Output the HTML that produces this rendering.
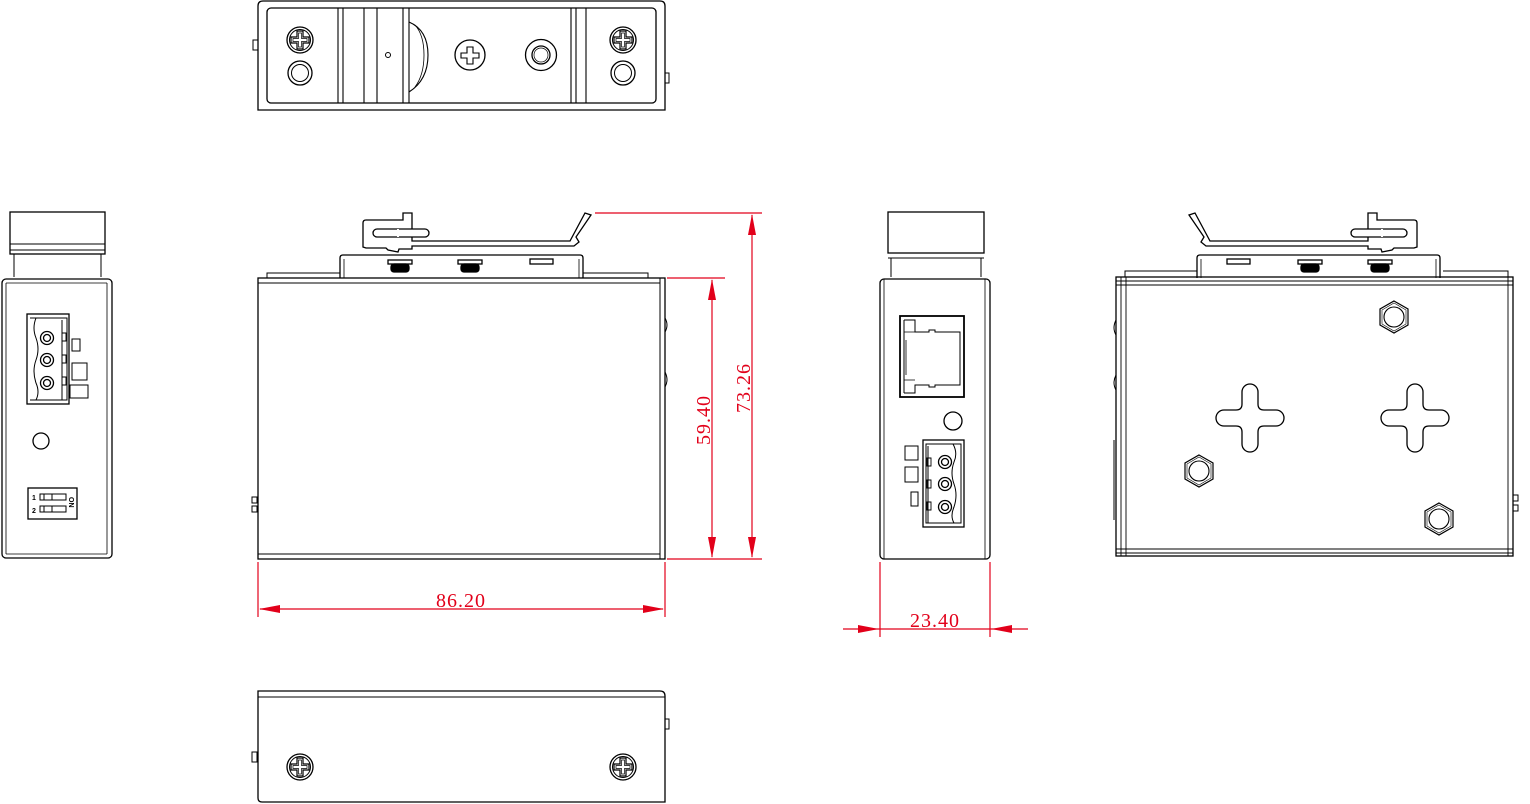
<!DOCTYPE html>
<html><head><meta charset="utf-8"><style>html,body{margin:0;padding:0;background:#fff}svg{display:block}</style></head>
<body>
<svg width="1530" height="804" viewBox="0 0 1530 804" xmlns="http://www.w3.org/2000/svg" font-family="Liberation Serif, serif">
<defs>
<g id="ph">
 <circle r="13" fill="none" stroke="#000" stroke-width="1.3"/>
 <circle r="10.5" fill="none" stroke="#000" stroke-width="1"/>
 <path d="M-3,-9 H3 V-3 H9 V3 H3 V9 H-3 V3 H-9 V-3 H-3 Z" fill="none" stroke="#000" stroke-width="1.2"/>
 <path d="M-1.5,-7 H1.5 V-1.5 H7 V1.5 H1.5 V7 H-1.5 V1.5 H-7 V-1.5 H-1.5 Z" fill="none" stroke="#000" stroke-width="0.7"/>
</g>
<g id="wa"><circle r="12" fill="none" stroke="#000" stroke-width="1.3"/><circle r="8.5" fill="none" stroke="#000" stroke-width="1"/></g>
<g id="hex"><polygon points="0,-16 14,-8 14,8 0,16 -14,8 -14,-8" fill="none" stroke="#000" stroke-width="1.2"/><polygon points="0,-14 12,-7 12,7 0,14 -12,7 -12,-7" fill="none" stroke="#000" stroke-width="0.6"/><circle r="10" fill="none" stroke="#000" stroke-width="1.1"/></g>
<g id="crs"><path d="M-8,-26 A8,8 0 0 1 8,-26 L8,-14 Q8,-8 14,-8 L26,-8 A8,8 0 0 1 26,8 L14,8 Q8,8 8,14 L8,26 A8,8 0 0 1 -8,26 L-8,14 Q-8,8 -14,8 L-26,8 A8,8 0 0 1 -26,-8 L-14,-8 Q-8,-8 -8,-14 Z" fill="none" stroke="#000" stroke-width="1.3"/></g>
<g id="top">
 <path d="M363,247 L363,223 Q363,220 366,220 L403,220 L403,213 L412,213 L412,229 L412,237 L412,241 L570,241 L585,213 L591,215 L576,237 L579,242 L574,246 L412,246 L412,249 L399,249 L398,252 L388,250 L386,248 L366,248 Z" fill="#fff" stroke="#000" stroke-width="1.3"/>
 <rect x="373" y="229" width="56" height="8" rx="4" fill="#fff" stroke="#000" stroke-width="1.3"/>
 <path d="M398,229 V237" stroke="#fff" stroke-width="2"/>
 <path d="M340,278 V258 Q340,255 343,255 H580 Q583,255 583,258 V278" fill="none" stroke="#000" stroke-width="1.3"/>
 <path d="M344,278 V259 M579,278 V259" stroke="#000" stroke-width="0.8"/>
 <rect x="388" y="260" width="24" height="4" fill="#fff" stroke="#000"/><rect x="391" y="264" width="18" height="8" rx="3" fill="#000"/>
 <rect x="458" y="260" width="24" height="4" fill="#fff" stroke="#000"/><rect x="461" y="264" width="18" height="8" rx="3" fill="#000"/>
 <rect x="530" y="259" width="23" height="5" fill="#fff" stroke="#000"/>
</g>
</defs>
<g stroke="#000" fill="none" stroke-width="1.3">
<!-- top view -->
<path d="M258,110 V6 Q258,1 263,1 H660 Q665,1 665,6 V110 Z"/>
<rect x="267" y="8" width="389" height="95" rx="4"/>
<path d="M338,8V103M343,8V103M364,8V103M377,8V103M403,8V103M409,8V103M571,8V103M576,8V103M586,8V103" stroke-width="1.1"/>
<path d="M409,22 Q428,30 428,55 Q428,80 409,92" stroke-width="1.1"/>
<path d="M415,25 Q424,35 424,55 Q424,75 415,87" stroke-width="0.8"/>
<circle cx="388" cy="55" r="2.5" stroke-width="1"/>
<path d="M253,40h5v10h-5z M665,73h4v10h-4z" stroke-width="1"/>
<use href="#ph" x="300" y="40"/><use href="#wa" x="300" y="73"/>
<use href="#ph" x="623" y="40"/><use href="#wa" x="623" y="73"/>
<circle cx="470" cy="55" r="15"/><path d="M467,47 H473 V53 H479 V58 H473 V64 H467 V58 H461 V53 H467 Z" stroke-width="1.1"/>
<circle cx="541" cy="55" r="15.5"/><circle cx="541" cy="55" r="9"/><circle cx="541" cy="55" r="7" stroke-width="0.7"/>

<!-- front view -->
<use href="#top"/>
<path d="M267,278 V273 H340 M583,273 H648 V278" stroke-width="1"/>
<rect x="258" y="278" width="407" height="281"/>
<path d="M258,283 H660 M258,554 H660 M660,278 V559" stroke-width="1"/>
<path d="M665,318 Q669,325 665,332 M665,372 Q669,380 665,387 M258,320 V400 M665,445 V525" stroke-width="1"/>
<path d="M252,497h5v6h-5z M252,506h5v6h-5z" stroke-width="1"/>

<!-- rear view -->
<g transform="translate(1780,0) scale(-1,1)"><use href="#top"/></g>
<path d="M1125,277 V271 H1197 M1443,271 H1508 V277" stroke-width="1"/>
<rect x="1116" y="277" width="397" height="279"/>
<path d="M1116,281 H1513 M1116,285 H1513 M1116,549 H1513 M1116,553 H1513 M1121,277 V556 M1126,277 V556 M1508,277 V556" stroke-width="0.9"/>
<path d="M1116,320 Q1112,328 1116,335 M1116,375 Q1112,383 1116,390 M1114,440 V520" stroke-width="1"/>
<path d="M1513,495h5v6h-5z M1513,505h5v6h-5z" stroke-width="1"/>
<use href="#hex" x="1394" y="317"/><use href="#hex" x="1199" y="471"/><use href="#hex" x="1439" y="519"/>
<use href="#crs" x="1250" y="418"/><use href="#crs" x="1415" y="418"/>

<!-- left side view -->
<rect x="10" y="212" width="95" height="42"/>
<path d="M10,244 H105 M10,250 H105 M14,254 V277 M101,254 V277" stroke-width="1"/>
<rect x="2" y="279" width="110" height="279" rx="4"/>
<path d="M6,283 V554 M107,283 V554 M6,283 H107 M6,554 H107" stroke-width="0.8"/>
<rect x="27" y="314" width="42" height="90"/>
<path d="M30,318 H67 V400 H30" stroke-width="1"/>
<path d="M36,318 Q32,328 36,338 Q40,349 36,360 Q32,371 36,383 Q40,392 36,400" stroke-width="1"/>
<circle cx="47" cy="338" r="6.5"/><circle cx="47" cy="338" r="3.5"/>
<circle cx="47" cy="360" r="6.5"/><circle cx="47" cy="360" r="3.5"/>
<circle cx="47" cy="383" r="6.5"/><circle cx="47" cy="383" r="3.5"/>
<path d="M62,320 V400" stroke-width="1"/>
<path d="M62,333h4v8h-4z M62,355h4v8h-4z M62,377h4v8h-4z" stroke-width="0.9"/>
<path d="M72,339h8v12h-8z M72,363h15v17h-15z M70,385h18v13h-18z" stroke-width="1"/>
<circle cx="41" cy="441" r="8"/>
<rect x="28" y="488" width="49" height="31"/>
<rect x="40" y="494" width="26" height="6" stroke-width="1"/><rect x="40" y="506" width="26" height="6" stroke-width="1"/>
<path d="M44,494V500 M52,494V500 M44,506V512 M52,506V512" stroke-width="1"/>
</g>
<g font-family="Liberation Sans, sans-serif" font-size="7" font-weight="bold" fill="#000">
<text x="32" y="500">1</text><text x="32" y="513">2</text>
<text transform="translate(69,497) rotate(90)">ON</text>
</g>
<g stroke="#000" fill="none" stroke-width="1.3">
<!-- right side view -->
<rect x="888" y="212" width="96" height="41"/>
<path d="M888,253 H984 M888,258 H984 M891,258 V277 M981,258 V277" stroke-width="1"/>
<rect x="880" y="279" width="110" height="280" rx="4"/>
<path d="M884,279 V559 M985,279 V559" stroke-width="0.8"/>
<rect x="900" y="316" width="64" height="81" stroke-width="1.8"/>
<path d="M904,320 V393 M904,320 H915 V332 H929 V330 H935 V332 H960 V385 H935 V387 H929 V385 H915 V393 H904" stroke-width="1"/>
<path d="M904,332 H915 M904,380 H915 M906,340 V375" stroke-width="0.8"/>
<circle cx="953" cy="421" r="9"/>
<rect x="923" y="440" width="41" height="87"/>
<path d="M926,444 H961 V523 H926 Z" stroke-width="1"/>
<path d="M953,444 Q958,453 954,462 Q950,473 954,484 Q958,495 954,507 Q950,516 954,523" stroke-width="1"/>
<circle cx="945" cy="462" r="6.5"/><circle cx="945" cy="462" r="3.5"/>
<circle cx="945" cy="484" r="6.5"/><circle cx="945" cy="484" r="3.5"/>
<circle cx="945" cy="507" r="6.5"/><circle cx="945" cy="507" r="3.5"/>
<path d="M928,446 V523" stroke-width="1"/>
<path d="M927,458h4v8h-4z M927,480h4v8h-4z M927,502h4v8h-4z" stroke-width="0.9"/>
<path d="M905,446h13v14h-13z M905,467h13v15h-13z M911,492h7v14h-7z" stroke-width="1"/>

<!-- bottom view -->
<path d="M258,691 H660 Q665,691 665,696 V802 H262 Q258,802 258,798 Z"/>
<path d="M258,697 H665" stroke-width="1"/>
<path d="M252,752h5v10h-5z M665,719h4v10h-4z M258,740V790 M665,735V780" stroke-width="1"/>
<use href="#ph" x="300" y="767"/><use href="#ph" x="623" y="767"/>
</g>

<!-- dimensions -->
<g stroke="#e2001a" stroke-width="1.2" fill="none">
<path d="M667,278 H725 M595,213 H762 M667,559 H762"/>
<path d="M712,280 V557 M752,215 V557"/>
<path d="M258,562 V617 M665,562 V617 M260,609 H663"/>
<path d="M880,562 V637 M990,562 V637 M843,629 H1028"/>
</g>
<g fill="#e2001a">
<polygon points="712,279 708,300 716,300"/><polygon points="712,558 708,537 716,537"/>
<polygon points="752,214 748,235 756,235"/><polygon points="752,558 748,537 756,537"/>
<polygon points="259,609 280,605 280,613"/><polygon points="664,609 643,605 643,613"/>
<polygon points="879,629 858,625 858,633"/><polygon points="991,629 1012,625 1012,633"/>
</g>
<g fill="#e2001a" font-size="20" text-anchor="middle">
<text x="461" y="607" letter-spacing="1">86.20</text>
<text x="935" y="627" letter-spacing="1">23.40</text>
<text transform="translate(710,420) rotate(-90)" letter-spacing="1">59.40</text>
<text transform="translate(750,388) rotate(-90)" letter-spacing="1">73.26</text>
</g>
</svg>
</body></html>
